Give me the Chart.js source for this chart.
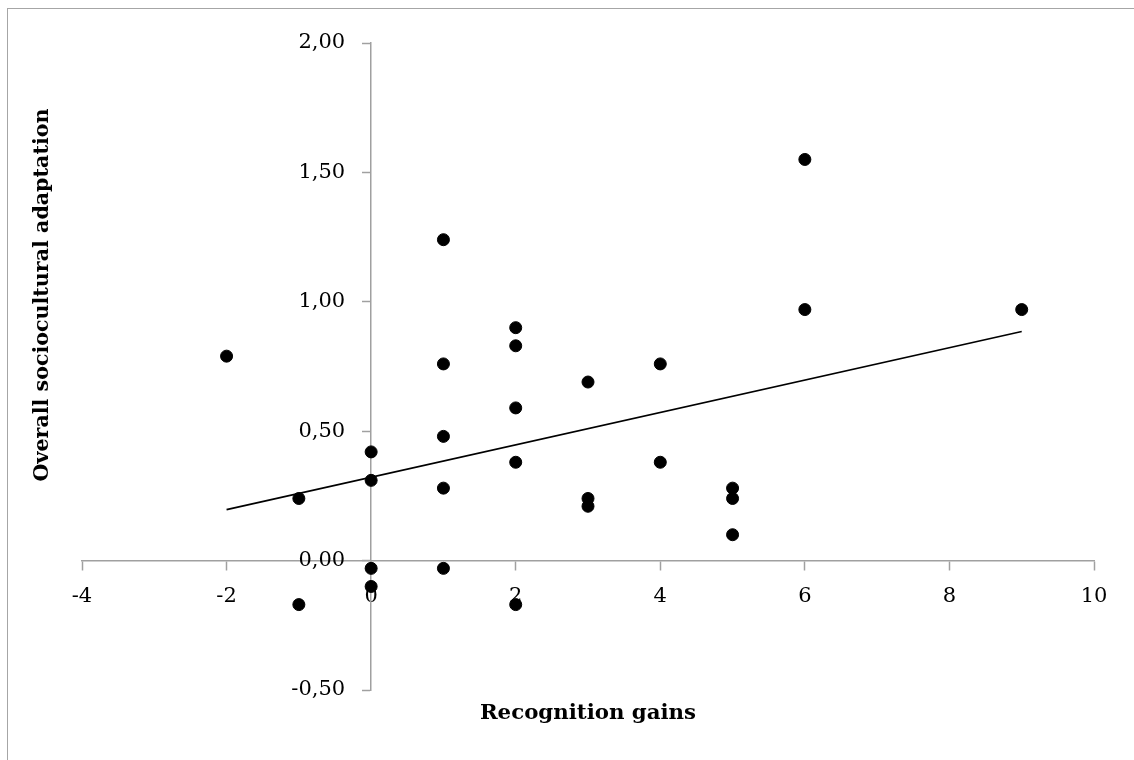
<!DOCTYPE html>
<html>
<head>
<meta charset="utf-8">
<script src="https://cdn.jsdelivr.net/npm/chart.js@4.4.1/dist/chart.umd.min.js"></script>
<style>
    html, body { margin: 0; padding: 0; background: #fff; overflow: hidden; }
    #frame { position: absolute; left: 7px; top: 8px; width: 1200px; height: 800px; border: 1.5px solid #a6a6a6; }
    #canvasDev { position: absolute; left: 0; top: 0; width: 1134px; height: 760px; }
</style>
</head>
<body>
<div id="frame"></div>
<div id="canvasDev"><canvas id="canvas"></canvas></div>
<script>
// points
let recognitionGains = [-2, -1, -1, 0, 0, 0, 0, 1, 1, 1, 1, 1, 2, 2, 2, 2, 2, 3, 3, 3, 4, 4, 5, 5, 5, 6, 6, 9];
let adaptation = [0.79, 0.24, -0.17, 0.42, 0.31, -0.03, -0.10, 1.24, 0.76, 0.48, 0.28, -0.03, 0.90, 0.83, 0.59, 0.38, -0.17, 0.69, 0.24, 0.21, 0.76, 0.38, 0.28, 0.24, 0.10, 1.55, 0.97, 0.97];

// linear trend line ends
let trendX = [-2, 9];
let trendY = [0.197, 0.885];

let xTitle = 'Recognition gains';
let yTitle = 'Overall sociocultural adaptation';

let points = [];
recognitionGains.forEach((x, i) => {
    points.push({x: x, y: adaptation[i]});
});
let trend = [];
trendX.forEach((x, i) => {
    trend.push({x: x, y: trendY[i]});
});

const axisGrey = '#a0a0a0';
const fontFamily = '"DejaVu Serif", serif';
const tickFont = {family: fontFamily, size: 21};

function yLabel(v) {
    return v.toFixed(2).replace('.', ',');
}

// axis titles are drawn at the edges, not next to the crossing axes,
// and the y tick labels get a gap from the axis (chart.js gives none when the axis is placed at a value)
const axisTitles = {
    id: 'axisTitles',
    afterDraw(chart) {
        let ctx = chart.ctx;
        let area = chart.chartArea;
        let yScale = chart.scales.y;
        let yAxisPx = chart.scales.x.getPixelForValue(0);
        ctx.save();
        ctx.fillStyle = '#000';

        ctx.font = tickFont.size + 'px ' + fontFamily;
        ctx.textAlign = 'right';
        ctx.textBaseline = 'middle';
        yScale.ticks.forEach(t => {
            ctx.fillText(yLabel(t.value), yAxisPx - 26, yScale.getPixelForValue(t.value));
        });

        ctx.textAlign = 'center';
        ctx.font = 'bold 21.3px ' + fontFamily;
        ctx.fillText(xTitle, (area.left + area.right) / 2, 713);
        ctx.font = 'bold 20.6px ' + fontFamily;
        ctx.translate(43, 295);
        ctx.rotate(-Math.PI / 2);
        ctx.fillText(yTitle, 0, 0);
        ctx.restore();
    }
};

var ctx = document.getElementById('canvas').getContext('2d');
let myChart = new Chart(ctx, {
    data: {
        datasets: [{
            type: 'scatter',
            data: points,
            backgroundColor: '#000',
            borderColor: '#000',
            borderWidth: 1,
            pointRadius: 6,
            pointHoverRadius: 6,
            order: 1
        }, {
            type: 'line',
            data: trend,
            borderColor: '#000',
            borderWidth: 1.6,
            pointRadius: 0,
            fill: false,
            order: 2
        }]
    },
    options: {
        responsive: true,
        maintainAspectRatio: false,
        animation: false,
        layout: {
            padding: {left: 82, right: 40, top: 43, bottom: 70}
        },
        plugins: {
            legend: {display: false},
            tooltip: {enabled: false}
        },
        scales: {
            x: {
                type: 'linear',
                position: {y: 0},
                min: -4,
                max: 10,
                ticks: {
                    stepSize: 2,
                    color: '#000',
                    padding: 14,
                    font: tickFont,
                    maxRotation: 0
                },
                grid: {
                    display: true,
                    drawOnChartArea: false,
                    drawTicks: true,
                    tickLength: 9,
                    tickColor: axisGrey,
                    tickWidth: 1.5
                },
                border: {color: axisGrey, width: 1.5}
            },
            y: {
                type: 'linear',
                position: {x: 0},
                min: -0.5,
                max: 2,
                ticks: {
                    stepSize: 0.5,
                    display: false
                },
                grid: {
                    display: true,
                    drawOnChartArea: false,
                    drawTicks: true,
                    tickLength: 8,
                    tickColor: axisGrey,
                    tickWidth: 1.5
                },
                border: {color: axisGrey, width: 1.5}
            }
        }
    },
    plugins: [axisTitles]
});
</script>
</body>
</html>
